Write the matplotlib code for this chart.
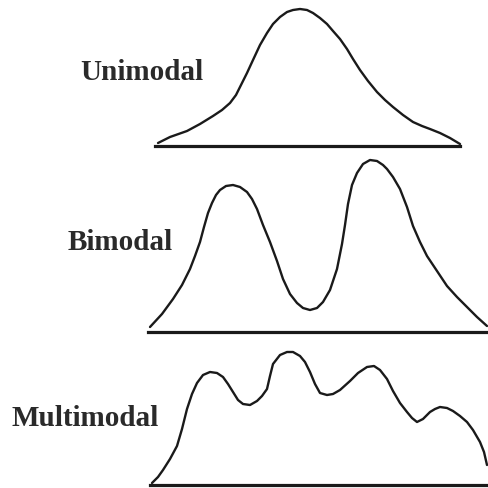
import matplotlib.pyplot as plt

# curve points (pixel coordinates, y downward)
uni_x = [158, 170, 187, 200, 213, 222, 230, 236, 240, 247, 253, 260, 267, 273, 280, 287, 293, 300,
         307, 313, 320, 327, 333, 340, 347, 353, 360, 368, 377, 385, 393, 403, 413, 422, 430, 440, 450, 460]
uni_y = [144, 138, 132, 125, 117, 111, 104, 96, 88, 74, 61, 46, 34, 25, 18, 13, 11, 10,
         11, 14, 19, 25, 32, 40, 50, 60, 71, 82, 93, 101, 108, 116, 123, 127, 130, 134, 139, 145]

bi_x = [150, 162, 173, 182, 190, 195, 200, 204, 208, 212, 216, 220, 226, 233, 240, 247, 252, 257, 263,
        270, 277, 283, 290, 297, 303, 310, 317, 323, 330, 337, 342, 345, 348, 352, 357, 363, 370, 377,
        383, 387, 393, 400, 407, 413, 420, 427, 437, 447, 457, 467, 477, 487]
bi_y = [328, 315, 300, 286, 270, 257, 243, 228, 214, 204, 196, 191, 187, 186, 188, 193, 200, 210, 226,
        243, 262, 280, 295, 304, 309, 311, 309, 303, 291, 270, 245, 226, 205, 186, 174, 165, 161, 162,
        166, 170, 178, 190, 208, 227, 243, 257, 272, 287, 298, 308, 318, 327]

multi_x = [152, 158, 163, 170, 177, 182, 187, 192, 197, 203, 210, 217, 223, 228, 233, 238, 243, 250,
           257, 262, 267, 270, 273, 280, 287, 293, 300, 305, 310, 315, 320, 327, 333, 340, 350, 358,
           367, 374, 380, 387, 393, 400, 407, 412, 417, 423, 430, 435, 440, 447, 453, 460, 467, 473,
           480, 484, 487]
multi_y = [484, 478, 471, 460, 447, 430, 410, 395, 384, 376, 373, 374, 378, 385, 393, 401, 405, 406,
           402, 397, 390, 377, 365, 356, 353, 353, 357, 363, 373, 385, 394, 396, 395, 391, 382, 374,
           368, 367, 371, 380, 392, 404, 413, 419, 423, 420, 413, 410, 408, 409, 412, 417, 423, 431,
           443, 453, 466]

baselines = [(155, 460, 147), (148, 488, 333), (150, 488, 486)]
labels = ['Unimodal', 'Bimodal', 'Multimodal']
label_pos = [(80, 72), (68, 243), (12, 418)]

fig = plt.figure(figsize=(4.88, 4.89), dpi=100)
ax = fig.add_axes([0, 0, 1, 1])
ax.set_xlim(0, 488)
ax.set_ylim(489, 0)
ax.axis('off')

for xs, ys in [(uni_x, uni_y), (bi_x, bi_y), (multi_x, multi_y)]:
    ax.plot(xs, ys, color='#1a1a1a', lw=1.7, solid_joinstyle='round', solid_capstyle='round')

for x0, x1, y in baselines:
    ax.plot([x0, x1], [y, y], color='#1a1a1a', lw=2.3)

for (x, y), t in zip(label_pos, labels):
    ax.text(x, y, t, ha='left', va='center', fontsize=21, fontweight='bold',
            family='Liberation Serif', color='#2a2a2a')

fig.savefig('out.png', dpi=100)
